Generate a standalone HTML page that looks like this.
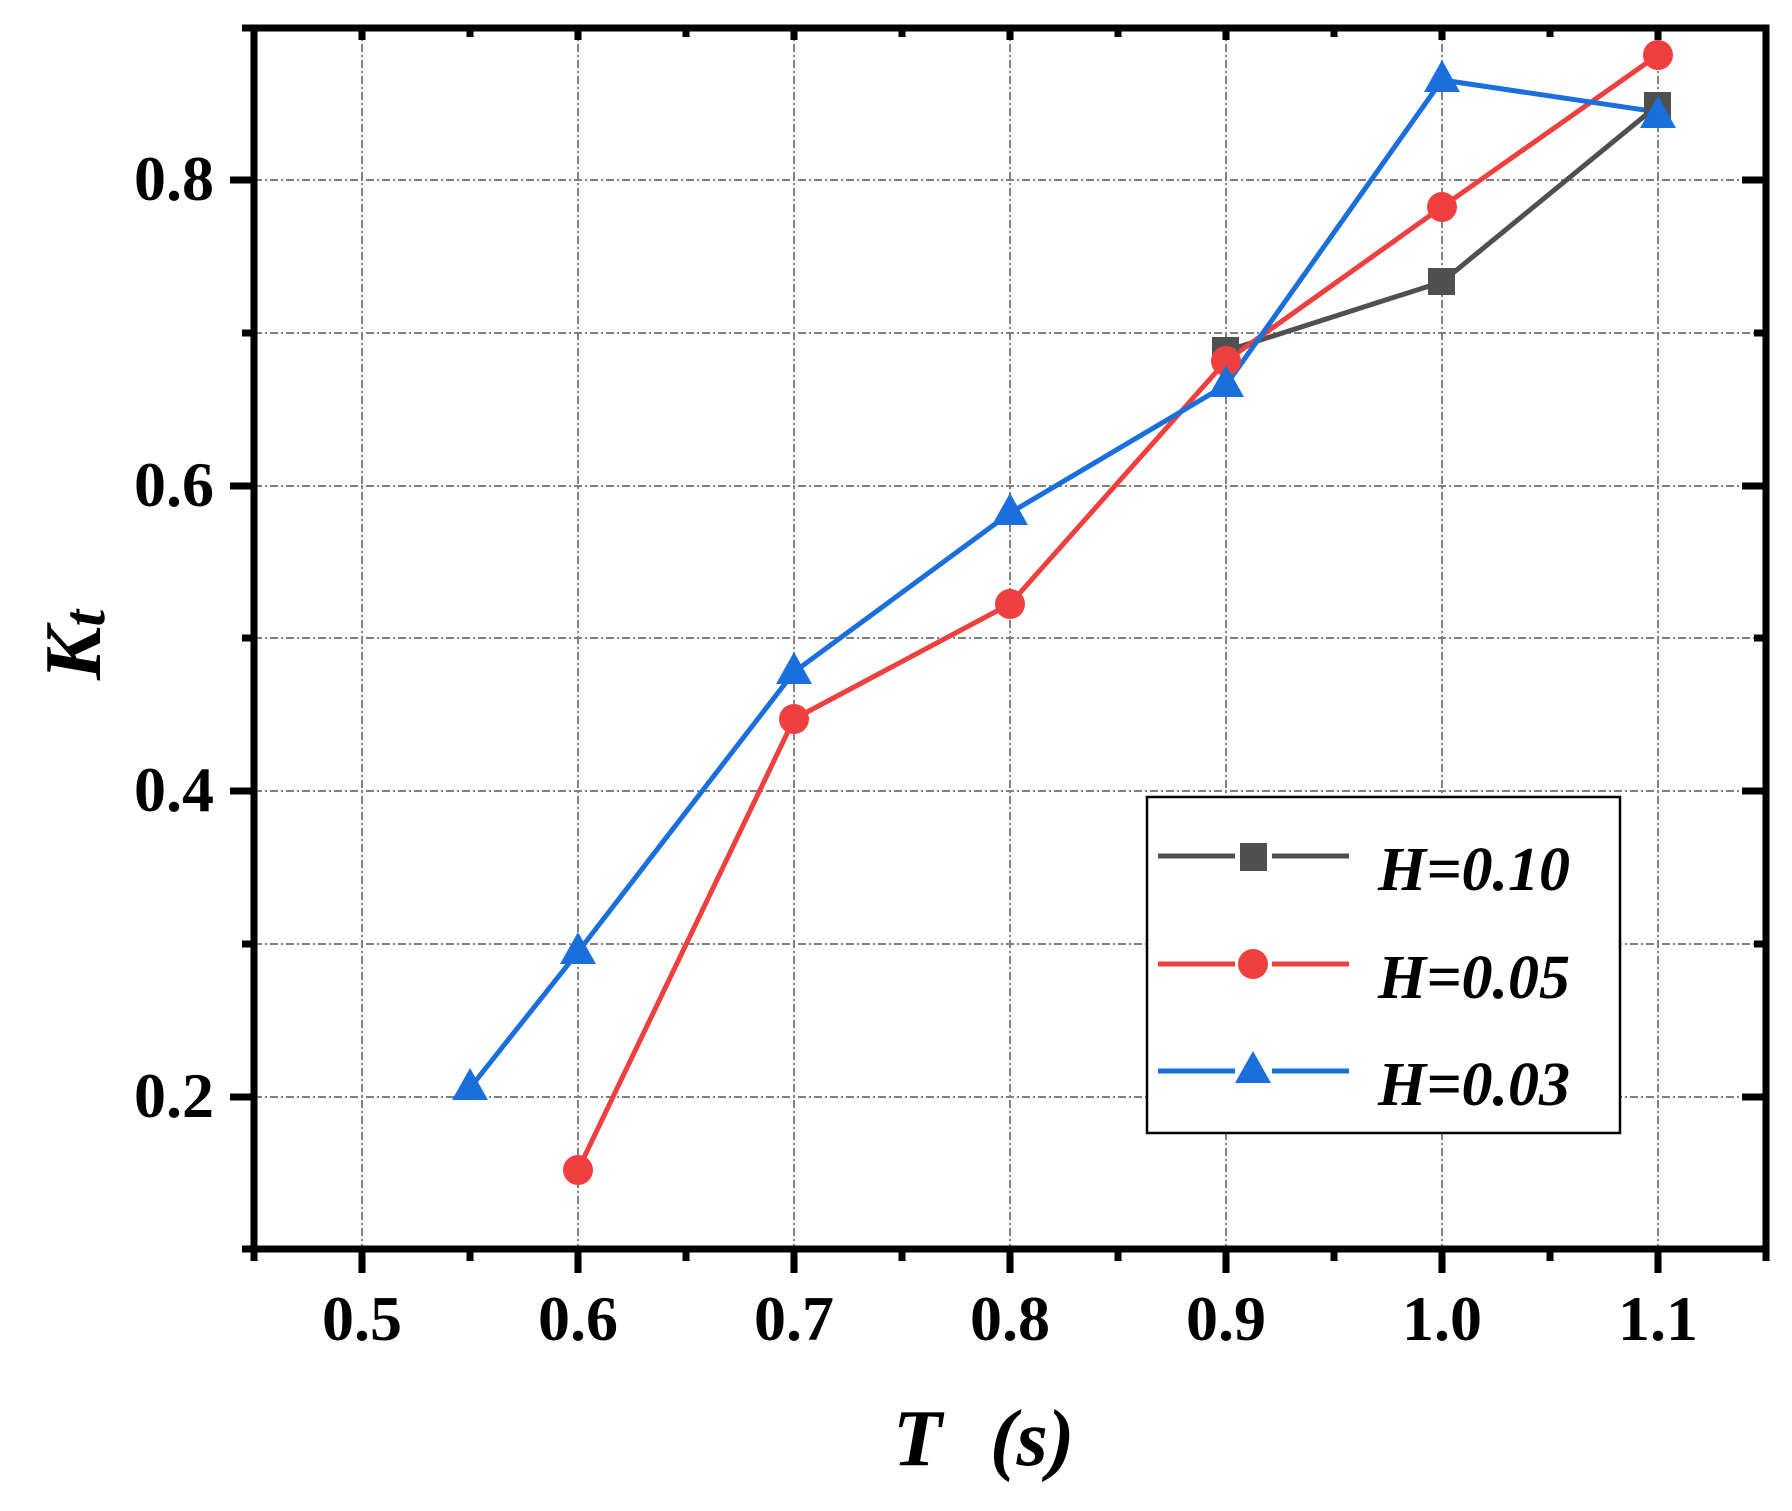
<!DOCTYPE html>
<html><head><meta charset="utf-8"><style>
html,body{margin:0;padding:0;background:#fff;}
svg{display:block;}
svg text{font-family:"Liberation Serif","Times New Roman",Times,serif;font-weight:bold;}
</style></head><body>
<svg width="1792" height="1511" viewBox="0 0 1792 1511" xmlns="http://www.w3.org/2000/svg" font-family="Liberation Serif, Times New Roman, serif">
<g stroke="#808080" stroke-width="2" stroke-dasharray="8,3,2,3" fill="none">
<line x1="362" y1="28" x2="362" y2="1249"/><line x1="578" y1="28" x2="578" y2="1249"/>
<line x1="794" y1="28" x2="794" y2="1249"/><line x1="1010" y1="28" x2="1010" y2="1249"/>
<line x1="1226" y1="28" x2="1226" y2="1249"/><line x1="1442" y1="28" x2="1442" y2="1249"/>
<line x1="1658" y1="28" x2="1658" y2="1249"/>
<line x1="254" y1="180" x2="1766" y2="180"/><line x1="254" y1="333" x2="1766" y2="333"/>
<line x1="254" y1="486" x2="1766" y2="486"/><line x1="254" y1="638" x2="1766" y2="638"/>
<line x1="254" y1="791" x2="1766" y2="791"/><line x1="254" y1="944" x2="1766" y2="944"/>
<line x1="254" y1="1097" x2="1766" y2="1097"/>
</g>
<g fill="none" stroke-width="5">
<polyline stroke="#505050" points="1226,351 1442,282 1658,105"/>
<polyline stroke="#ef4040" points="578,1170 794,719 1010,604 1226,361 1442,207 1658,55"/>
<polyline stroke="#1a6fdc" points="470,1088 578,952 794,672 1010,513 1226,385 1442,80 1658,112"/>
</g>
<g fill="#505050">
<rect x="1212" y="337" width="27" height="27"/><rect x="1428" y="268" width="27" height="27"/><rect x="1644" y="92" width="27" height="27"/>
</g>
<g fill="#ef4040">
<circle cx="578" cy="1170" r="15"/><circle cx="794" cy="719" r="15"/><circle cx="1010" cy="604" r="15"/>
<circle cx="1226" cy="361" r="15"/><circle cx="1442" cy="207" r="15"/><circle cx="1658" cy="55" r="15"/>
</g>
<g fill="#1a6fdc">
<polygon points="470,1068 452,1100 488,1100"/><polygon points="578,932 560,964 596,964"/>
<polygon points="794,652 776,684 812,684"/><polygon points="1010,493 992,525 1028,525"/>
<polygon points="1226,365 1208,397 1244,397"/><polygon points="1442,60 1424,92 1460,92"/>
<polygon points="1658,96 1640,128 1676,128"/>
</g>
<rect x="254" y="28" width="1512" height="1221" fill="none" stroke="#000" stroke-width="7"/>
<g stroke="#000" stroke-width="7">
<line x1="362" y1="1249" x2="362" y2="1273"/><line x1="578" y1="1249" x2="578" y2="1273"/>
<line x1="794" y1="1249" x2="794" y2="1273"/><line x1="1010" y1="1249" x2="1010" y2="1273"/>
<line x1="1226" y1="1249" x2="1226" y2="1273"/><line x1="1442" y1="1249" x2="1442" y2="1273"/>
<line x1="1658" y1="1249" x2="1658" y2="1273"/>
<line x1="254" y1="1249" x2="254" y2="1261"/><line x1="470" y1="1249" x2="470" y2="1261"/>
<line x1="686" y1="1249" x2="686" y2="1261"/><line x1="902" y1="1249" x2="902" y2="1261"/>
<line x1="1118" y1="1249" x2="1118" y2="1261"/><line x1="1334" y1="1249" x2="1334" y2="1261"/>
<line x1="1550" y1="1249" x2="1550" y2="1261"/><line x1="1766" y1="1249" x2="1766" y2="1261"/>
<line x1="362" y1="28" x2="362" y2="40"/><line x1="578" y1="28" x2="578" y2="40"/>
<line x1="794" y1="28" x2="794" y2="40"/><line x1="1010" y1="28" x2="1010" y2="40"/>
<line x1="1226" y1="28" x2="1226" y2="40"/><line x1="1442" y1="28" x2="1442" y2="40"/>
<line x1="1658" y1="28" x2="1658" y2="40"/>
<line x1="470" y1="28" x2="470" y2="37"/><line x1="686" y1="28" x2="686" y2="37"/>
<line x1="902" y1="28" x2="902" y2="37"/><line x1="1118" y1="28" x2="1118" y2="37"/>
<line x1="1334" y1="28" x2="1334" y2="37"/><line x1="1550" y1="28" x2="1550" y2="37"/>
<line x1="230" y1="180" x2="254" y2="180"/><line x1="230" y1="486" x2="254" y2="486"/>
<line x1="230" y1="791" x2="254" y2="791"/><line x1="230" y1="1097" x2="254" y2="1097"/>
<line x1="242" y1="28" x2="254" y2="28"/><line x1="242" y1="333" x2="254" y2="333"/>
<line x1="242" y1="638" x2="254" y2="638"/><line x1="242" y1="944" x2="254" y2="944"/>
<line x1="242" y1="1249" x2="254" y2="1249"/>
<line x1="1742" y1="180" x2="1766" y2="180"/><line x1="1742" y1="486" x2="1766" y2="486"/>
<line x1="1742" y1="791" x2="1766" y2="791"/><line x1="1742" y1="1097" x2="1766" y2="1097"/>
<line x1="1754" y1="333" x2="1766" y2="333"/><line x1="1754" y1="638" x2="1766" y2="638"/>
<line x1="1754" y1="944" x2="1766" y2="944"/>
</g>
<g font-size="64" text-anchor="middle">
<text x="362" y="1340">0.5</text><text x="578" y="1340">0.6</text><text x="794" y="1340">0.7</text>
<text x="1010" y="1340">0.8</text><text x="1226" y="1340">0.9</text><text x="1442" y="1340">1.0</text>
<text x="1658" y="1340">1.1</text>
</g>
<g font-size="64" text-anchor="end">
<text x="214" y="200">0.8</text><text x="214" y="506">0.6</text>
<text x="214" y="811">0.4</text><text x="214" y="1117">0.2</text>
</g>
<text x="893" y="1465" font-size="80" font-style="italic">T</text>
<text x="990" y="1465" font-size="80" font-style="italic">(s)</text>
<g transform="translate(100,680) rotate(-90)">
<text x="0" y="0" font-size="80" font-style="italic">K<tspan font-size="60" dy="4">t</tspan></text>
</g>
<rect x="1147" y="797" width="473" height="336" fill="#fff" stroke="#000" stroke-width="2.5"/>
<g stroke-width="5">
<line x1="1158" y1="856" x2="1235" y2="856" stroke="#505050"/><line x1="1272" y1="856" x2="1349" y2="856" stroke="#505050"/>
<line x1="1158" y1="964" x2="1235" y2="964" stroke="#ef4040"/><line x1="1272" y1="964" x2="1349" y2="964" stroke="#ef4040"/>
<line x1="1158" y1="1071" x2="1235" y2="1071" stroke="#1a6fdc"/><line x1="1272" y1="1071" x2="1349" y2="1071" stroke="#1a6fdc"/>
</g>
<rect x="1240" y="843" width="27" height="28" fill="#505050"/>
<circle cx="1253" cy="964" r="15" fill="#ef4040"/>
<polygon points="1253,1051 1235,1083 1271,1083" fill="#1a6fdc"/>
<g font-size="62" font-style="italic">
<text x="1378" y="890">H=0.10</text>
<text x="1378" y="998">H=0.05</text>
<text x="1378" y="1105">H=0.03</text>
</g>
</svg>
</body></html>
